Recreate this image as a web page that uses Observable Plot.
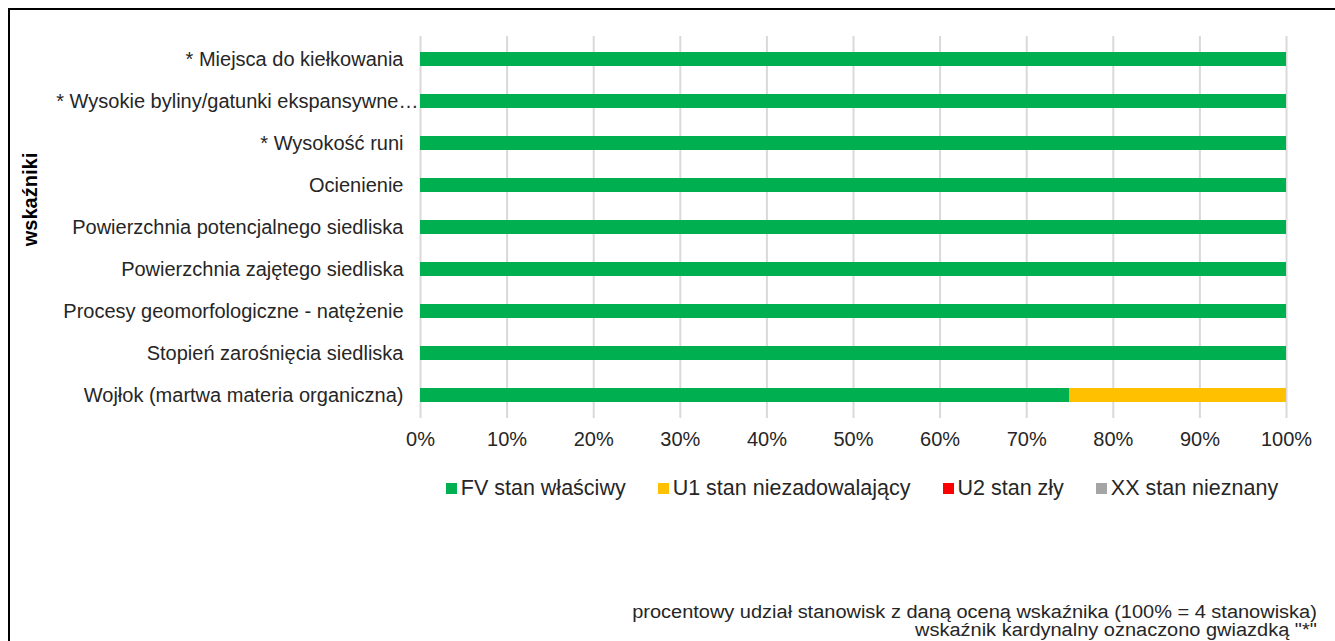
<!DOCTYPE html>
<html>
<head>
<meta charset="utf-8">
<script src="https://cdn.jsdelivr.net/npm/d3@7"></script>
<script src="https://cdn.jsdelivr.net/npm/@observablehq/plot@0.6"></script>
<style>
  html, body { margin: 0; padding: 0; background: #fff; }
  body { width: 1335px; height: 641px; overflow: hidden; position: relative; font-family: "Liberation Sans", Arial, sans-serif; color: #262626; }
  #frame { position: absolute; left: 8px; top: 8px; width: 1340px; height: 700px; border-top: 2px solid #000; border-left: 2px solid #000; }
  #chart { position: absolute; left: 0; top: 0; }
  #legend { position: absolute; left: 0; top: 475px; width: 1335px; display: flex; justify-content: center; padding-left: 389px; box-sizing: border-box; font-size: 21.5px; line-height: 26px; }
  .item { display: flex; align-items: center; margin: 0 16px; }
  .sw { width: 11px; height: 11px; margin-right: 4px; }
  #caption { position: absolute; right: 18px; top: 603px; text-align: right; font-size: 18px; line-height: 18px; transform: scaleX(1.11); transform-origin: right top; }
</style>
</head>
<body>
<div id="frame"></div>
<div id="chart"></div>
<div id="legend"></div>
<div id="caption"></div>
<script>
const categories = [
  "* Miejsca do kiełkowania",
  "* Wysokie byliny/gatunki ekspansywne…",
  "* Wysokość runi",
  "Ocienienie",
  "Powierzchnia potencjalnego siedliska",
  "Powierzchnia zajętego siedliska",
  "Procesy geomorfologiczne - natężenie",
  "Stopień zarośnięcia siedliska",
  "Wojłok (martwa materia organiczna)"
];
const truncatedLabels = ["* Wysokie byliny/gatunki ekspansywne…"];
const seriesNames = ["FV stan właściwy", "U1 stan niezadowalający", "U2 stan zły", "XX stan nieznany"];
const seriesColors = ["#00B050", "#FFC000", "#FF0000", "#A5A5A5"];
const FV = [100, 100, 100, 100, 100, 100, 100, 100, 75];
const U1 = [0, 0, 0, 0, 0, 0, 0, 0, 25];
const U2 = [0, 0, 0, 0, 0, 0, 0, 0, 0];
const XX = [0, 0, 0, 0, 0, 0, 0, 0, 0];
const xTicks = [0, 10, 20, 30, 40, 50, 60, 70, 80, 90, 100];
const yTitle = "wskaźniki";
const captionLines = [
  "procentowy udział stanowisk z daną oceną wskaźnika (100% = 4 stanowiska)",
  "wskaźnik kardynalny oznaczono gwiazdką \"*\""
];

const seriesValues = [FV, U1, U2, XX];
const data = [];
categories.forEach((c, i) => {
  seriesNames.forEach((s, j) => {
    data.push({category: c, series: s, value: seriesValues[j][i]});
  });
});

const chart = Plot.plot({
  width: 1335,
  height: 470,
  marginLeft: 420,
  marginRight: 49,
  marginTop: 36,
  marginBottom: 52,
  style: {fontFamily: "Liberation Sans, Arial, sans-serif", fontSize: "20px", color: "#262626", background: "transparent"},
  x: {domain: [0, 100], label: null},
  y: {domain: categories, paddingInner: 0.67, paddingOuter: 0.335, label: null},
  color: {domain: seriesNames, range: seriesColors},
  marks: [
    Plot.ruleX(xTicks, {stroke: "#d9d9d9", strokeWidth: 2}),
    Plot.barX(data, Plot.stackX({x: "value", y: "category", fill: "series", order: seriesNames})),
    Plot.axisX({ticks: xTicks, tickFormat: d => d + "%", tickSize: 0, tickPadding: 13, fontSize: 20, fill: "#262626", label: null}),
    Plot.axisY(categories.filter(c => !truncatedLabels.includes(c)), {tickSize: 0, tickPadding: 17, fontSize: 20, fill: "#262626", label: null}),
    Plot.axisY(truncatedLabels, {tickSize: 0, tickPadding: 2, fontSize: 20, fill: "#262626", label: null}),
    Plot.text([yTitle], {frameAnchor: "left", text: d => d, rotate: -90, textAnchor: "middle", dx: -390, dy: -28, fontWeight: "bold", fontSize: 20, fill: "#000"})
  ]
});
document.getElementById("chart").appendChild(chart);

const legend = document.getElementById("legend");
seriesNames.forEach((s, i) => {
  const it = document.createElement("div");
  it.className = "item";
  const sw = document.createElement("div");
  sw.className = "sw";
  sw.style.background = seriesColors[i];
  const t = document.createElement("span");
  t.textContent = s;
  it.appendChild(sw); it.appendChild(t);
  legend.appendChild(it);
});
const cap = document.getElementById("caption");
captionLines.forEach(l => { const d = document.createElement("div"); d.textContent = l; cap.appendChild(d); });
</script>
</body>
</html>
